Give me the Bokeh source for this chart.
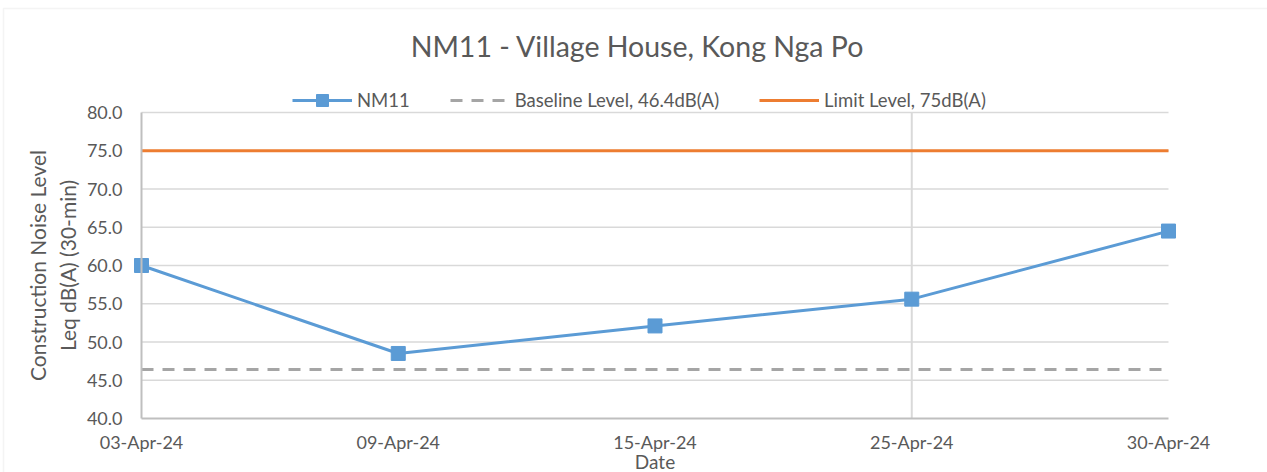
from bokeh.plotting import figure
from bokeh.models import (Range1d, FixedTicker, Legend, LegendItem, Label,
                          NumeralTickFormatter, BoxAnnotation)
from bokeh.embed import file_html
from bokeh.resources import INLINE

# ---- data ----
dates = ["03-Apr-24", "09-Apr-24", "15-Apr-24", "25-Apr-24", "30-Apr-24"]
nm11 = [60.0, 48.5, 52.1, 55.6, 64.5]
baseline = [46.4, 46.4, 46.4, 46.4, 46.4]
limit = [75.0, 75.0, 75.0, 75.0, 75.0]
y_ticks = [40, 45, 50, 55, 60, 65, 70, 75, 80]
highlight_date = "25-Apr-24"

title_text = "NM11 - Village House, Kong Nga Po"
y_label = "Construction Noise Level\nLeq dB(A) (30-min)"
x_label = "Date"

FONT = "Lato"
TXT = "#595959"
GRID = "#d9d9d9"
AXIS = "#bfbfbf"

# ---- layout (pixels) ----
W, H = 1267, 472
PL, PR, PT, PB = 141, 1168, 112, 418     # plot-area edges in canvas pixels

xs = list(range(len(dates)))
x0, x1 = xs[0], xs[-1]
y0, y1 = y_ticks[0], y_ticks[-1]
sx = (x1 - x0) / (PR - PL)
sy = (y1 - y0) / (PB - PT)
xr = Range1d(x0 - PL * sx, x1 + (W - PR) * sx)
yr = Range1d(y0 - (H - PB) * sy, y1 + PT * sy)

p = figure(width=W, height=H, output_backend="svg", toolbar_location=None,
           x_range=xr, y_range=yr,
           min_border_left=0, min_border_right=0, min_border_top=0,
           min_border_bottom=0)
p.outline_line_color = None
p.background_fill_color = "white"
p.border_fill_color = "white"

# chart-area border (left and top edges visible)
p.add_layout(BoxAnnotation(left=3, right=W + 10, top=H - 8, bottom=-10,
                           left_units="screen", right_units="screen",
                           top_units="screen", bottom_units="screen",
                           fill_alpha=0, line_color=GRID, line_width=1.5,
                           level="underlay"))

# axes placed at the plot-area edges
p.xaxis.fixed_location = y0
p.yaxis.fixed_location = x0
p.xaxis.bounds = (x0, x1)
p.yaxis.bounds = (y0, y1)
p.xaxis.ticker = FixedTicker(ticks=xs)
p.xaxis.major_label_overrides = {i: d for i, d in zip(xs, dates)}
p.yaxis.ticker = FixedTicker(ticks=y_ticks)
p.yaxis.formatter = NumeralTickFormatter(format="0.0")
for ax in (p.xaxis[0], p.yaxis[0]):
    ax.axis_line_color = AXIS
    ax.axis_line_width = 2
    ax.major_tick_line_color = None
    ax.minor_tick_line_color = None
    ax.major_label_text_font = FONT
    ax.major_label_text_font_size = "18px"
    ax.major_label_text_color = TXT
p.yaxis.major_label_standoff = 13
p.xaxis.major_label_standoff = 6

p.yaxis.axis_label = y_label
p.yaxis.axis_label_text_font = FONT
p.yaxis.axis_label_text_font_size = "21px"
p.yaxis.axis_label_text_font_style = "normal"
p.yaxis.axis_label_text_color = TXT
p.yaxis.axis_label_text_line_height = 1.2
p.yaxis.axis_label_standoff = 4

p.xgrid.grid_line_color = None
p.ygrid.grid_line_color = None

# horizontal gridlines over the plot area only
grid_y = [t for t in y_ticks if t != y0]
p.segment(x0=[x0] * len(grid_y), x1=[x1] * len(grid_y), y0=grid_y, y1=grid_y,
          line_color=GRID, line_width=1.5, level="underlay")
# highlighted vertical gridline
hx = dates.index(highlight_date)
p.segment(x0=[hx], x1=[hx], y0=[y0], y1=[y1], line_color=GRID, line_width=2,
          level="underlay")

# series
r_limit = p.line(xs, limit, line_color="#ED7D31", line_width=3)
r_base = p.line(xs, baseline, line_color="#A5A5A5", line_width=3, line_dash="12 9")
r_nm = p.line(xs, nm11, line_color="#5B9BD5", line_width=3)
r_nm_pts = p.scatter(xs, nm11, marker="square", size=14, fill_color="#5B9BD5",
                     line_color="#5B9BD5")

LEG_H = 30
legend = Legend(items=[
    LegendItem(label="NM11", renderers=[r_nm, r_nm_pts]),
    LegendItem(label="Baseline Level, 46.4dB(A)", renderers=[r_base]),
    LegendItem(label="Limit Level, 75dB(A)", renderers=[r_limit]),
], orientation="horizontal", location=(292, H - 100 - LEG_H // 2))
legend.glyph_width = 60
legend.glyph_height = LEG_H
legend.label_height = LEG_H
legend.label_standoff = 5
legend.spacing = 40
legend.padding = 0
legend.margin = 0
legend.border_line_color = None
legend.background_fill_alpha = 0
legend.label_text_font = FONT
legend.label_text_font_size = "18.5px"
legend.label_text_color = TXT
p.add_layout(legend, "center")

# chart title
p.add_layout(Label(x=637, y=H - 45, x_units="screen", y_units="screen",
                   text=title_text, text_font=FONT, text_font_size="28.5px",
                   text_color=TXT, text_align="center", text_baseline="middle"))

# x-axis title, centred under the category axis
p.add_layout(Label(x=(x0 + x1) / 2, y=H - 461, x_units="data", y_units="screen",
                   text=x_label, text_font=FONT, text_font_size="19px",
                   text_color=TXT, text_align="center", text_baseline="middle"))

open("out.html", "w").write(file_html(p, INLINE))
